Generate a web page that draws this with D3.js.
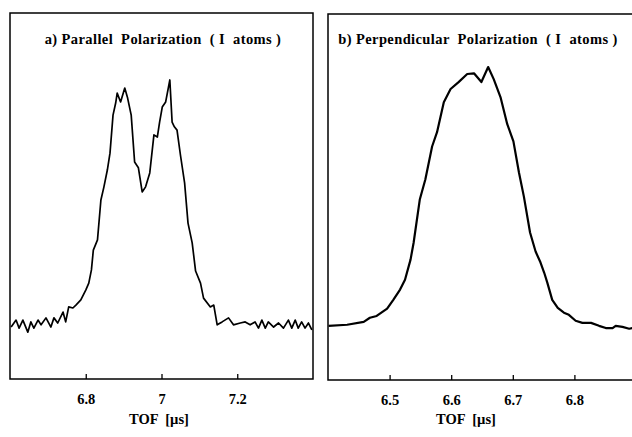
<!DOCTYPE html>
<html>
<head>
<meta charset="utf-8">
<script src="https://cdn.jsdelivr.net/npm/d3@7"></script>
<style>
  body { margin: 0; background: #fff; }
</style>
</head>
<body>
<svg width="632" height="437"></svg>
<script>
'use strict';

const serif = "'Liberation Serif', 'Times New Roman', 'DejaVu Serif', serif";
const fontSize = 14.5;

// a) parallel polarization: TOF [us] and signal (arb. units, 0..100 = frame height)
const tofA = [6.603, 6.616, 6.624, 6.634, 6.647, 6.655, 6.663, 6.674, 6.682, 6.695,
  6.708, 6.716, 6.726, 6.740, 6.747, 6.755, 6.766, 6.774, 6.787, 6.800,
  6.808, 6.815, 6.820, 6.831, 6.840, 6.848, 6.857, 6.864, 6.872, 6.879,
  6.883, 6.892, 6.903, 6.910, 6.920, 6.929, 6.939, 6.949, 6.958, 6.969,
  6.980, 6.989, 6.995, 7.002, 7.011, 7.022, 7.028, 7.034, 7.041, 7.050,
  7.061, 7.070, 7.081, 7.090, 7.103, 7.111, 7.129, 7.138, 7.147, 7.160,
  7.177, 7.190, 7.208, 7.221, 7.234, 7.247, 7.256, 7.265, 7.274, 7.282,
  7.296, 7.309, 7.322, 7.335, 7.344, 7.353, 7.361, 7.370, 7.379, 7.388, 7.397];
const sigA = [14.2, 16.1, 13.9, 16.1, 12.8, 15.6, 13.9, 16.1, 14.8, 16.7,
  14.2, 16.7, 15.3, 18.3, 15.6, 19.7, 19.4, 20.2, 21.6, 24.3,
  26.2, 29.8, 35.2, 38.0, 48.9, 52.5, 57.1, 61.7, 72.1, 75.4,
  78.1, 75.7, 79.5, 77.0, 72.1, 59.3, 57.7, 51.1, 52.5, 56.3,
  66.7, 66.1, 70.2, 74.3, 75.7, 81.7, 70.2, 68.9, 68.0, 61.2,
  53.6, 42.6, 37.2, 29.5, 26.2, 22.1, 19.7, 20.2, 14.8, 15.6,
  16.7, 14.8, 15.3, 15.6, 14.8, 15.6, 13.9, 16.1, 13.9, 15.6,
  14.2, 15.3, 13.9, 16.1, 13.9, 16.1, 13.9, 15.6, 13.9, 15.3, 13.4];

// b) perpendicular polarization
const tofB = [6.401, 6.431, 6.458, 6.468, 6.479, 6.496, 6.506, 6.517, 6.525, 6.534,
  6.539, 6.549, 6.558, 6.569, 6.577, 6.588, 6.599, 6.612, 6.626, 6.637,
  6.649, 6.660, 6.669, 6.680, 6.691, 6.701, 6.710, 6.718, 6.728, 6.737,
  6.745, 6.751, 6.756, 6.764, 6.773, 6.783, 6.791, 6.802, 6.813, 6.827,
  6.840, 6.851, 6.862, 6.867, 6.878, 6.889, 6.895];
const sigB = [14.8, 15.1, 15.9, 17.0, 17.5, 19.5, 21.9, 24.7, 27.4, 32.9,
  37.5, 49.3, 54.8, 63.8, 67.7, 75.9, 79.5, 81.4, 83.6, 83.8,
  81.4, 85.5, 82.2, 77.3, 69.9, 65.2, 56.7, 50.1, 40.3, 35.1,
  32.1, 29.3, 26.6, 21.9, 19.7, 18.4, 17.8, 16.2, 15.6, 15.6,
  14.8, 14.2, 14.2, 14.8, 14.5, 14.0, 14.2];

const ticksA = [6.8, 7.0, 7.2];
const ticksB = [6.5, 6.6, 6.7, 6.8];

const svg = d3.select("svg");

const panels = [
  {title: "a) Parallel  Polarization  ( I  atoms )", tof: tofA, sig: sigA, ticks: ticksA,
   domain: [6.6, 7.4], left: 10, right: 313, top: 13, bottom: 379, lw: 1.7,
   titleX: 163, labelX: 159, fmt: d => d === 7 ? "7" : d3.format(".1f")(d)},
  {title: "b) Perpendicular  Polarization  ( I  atoms )", tof: tofB, sig: sigB, ticks: ticksB,
   domain: [6.4, 6.9], left: 328, right: 636, top: 14, bottom: 380, lw: 2.2,
   titleX: 478, labelX: 466, fmt: d3.format(".1f")}
];

panels.forEach(p => {
  const x = d3.scaleLinear().domain(p.domain).range([p.left, p.right]);
  const y = d3.scaleLinear().domain([0, 100]).range([p.bottom, p.top]);
  const g = svg.append("g");

  g.append("rect")
    .attr("x", p.left).attr("y", p.top)
    .attr("width", p.right - p.left).attr("height", p.bottom - p.top)
    .attr("fill", "none").attr("stroke", "#000").attr("stroke-width", 1.5);

  const axis = d3.axisBottom(x)
    .tickValues(p.ticks)
    .tickFormat(p.fmt)
    .tickSizeInner(-5)
    .tickSizeOuter(0)
    .tickPadding(15);

  g.append("g")
    .attr("transform", `translate(0,${p.bottom})`)
    .call(axis)
    .attr("font-family", serif)
    .attr("font-size", fontSize)
    .attr("font-weight", "bold")
    .call(a => a.select(".domain").remove())
    .call(a => a.selectAll("line").attr("stroke", "#000").attr("stroke-width", 1.3));

  const line = d3.line()
    .x((d, i) => x(p.tof[i]))
    .y(d => y(d));

  g.append("path")
    .datum(p.sig)
    .attr("d", line)
    .attr("fill", "none")
    .attr("stroke", "#000")
    .attr("stroke-width", p.lw)
    .attr("stroke-linejoin", "round");

  g.append("text")
    .attr("x", p.titleX).attr("y", 44)
    .attr("text-anchor", "middle")
    .attr("font-family", serif)
    .attr("font-size", fontSize)
    .attr("font-weight", "bold")
    .attr("letter-spacing", 0.4)
    .style("white-space", "pre")
    .text(p.title);

  g.append("text")
    .attr("x", p.labelX).attr("y", 424)
    .attr("text-anchor", "middle")
    .attr("font-family", serif)
    .attr("font-size", fontSize)
    .attr("font-weight", "bold")
    .style("white-space", "pre")
    .text("TOF  [µs]");
});
</script>
</body>
</html>
